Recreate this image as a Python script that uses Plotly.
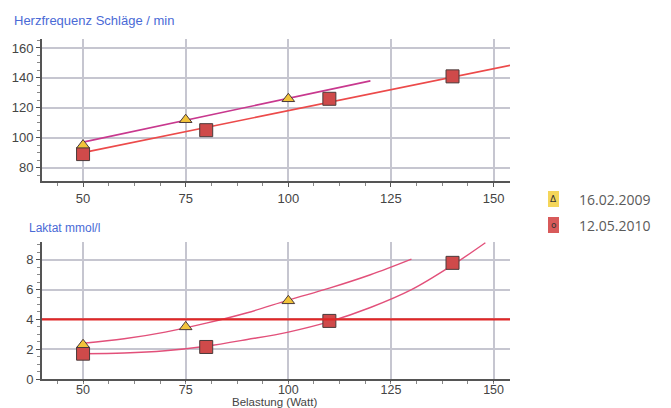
import plotly.graph_objects as go

# ---- data ----
hr_2009_x = [50, 75, 100]
hr_2009_y = [95, 112, 126]
hr_2010_x = [50, 80, 110, 140]
hr_2010_y = [89, 105, 126, 141]
hr_fit_2009_x = [50, 120]
hr_fit_2009_y = [97, 138]
hr_fit_2010_x = [50, 156]
hr_fit_2010_y = [90, 149.5]

lac_2009_x = [50, 75, 100]
lac_2009_y = [2.3, 3.5, 5.25]
lac_2010_x = [50, 80, 110, 140]
lac_2010_y = [1.7, 2.15, 3.9, 7.8]
lac_curve_2009_x = [50, 60, 70, 80, 90, 100, 110, 120, 130]
lac_curve_2009_y = [2.4, 2.7, 3.15, 3.75, 4.45, 5.3, 6.1, 7.0, 8.05]
lac_curve_2010_x = [50, 60, 70, 80, 90, 100, 110, 120, 130, 140, 148]
lac_curve_2010_y = [1.7, 1.75, 1.9, 2.2, 2.65, 3.15, 3.85, 4.8, 6.0, 7.65, 9.15]
lac_threshold = 4

x_ticks = [50, 75, 100, 125, 150]
hr_ticks = [80, 100, 120, 140, 160]
lac_ticks = [0, 2, 4, 6, 8]
legend_labels = ["16.02.2009", "12.05.2010"]
legend_glyphs = ["Δ", "o"]

# ---- styles ----
W, H = 671, 408
tri_fill = "#f2c43a"
sq_fill = "#cf4a4a"
mark_line = "#4a3a3a"
grid_c = "#c6c6d0"
axis_c = "#555555"
title_c = "#4a6ad6"

fig = go.Figure()

# top chart
fig.add_trace(go.Scatter(x=hr_fit_2009_x, y=hr_fit_2009_y, mode="lines",
                         line=dict(color="#c8388e", width=1.6), xaxis="x", yaxis="y"))
fig.add_trace(go.Scatter(x=hr_fit_2010_x, y=hr_fit_2010_y, mode="lines",
                         line=dict(color="#ec4a4a", width=1.6), xaxis="x", yaxis="y"))
fig.add_trace(go.Scatter(x=hr_2010_x, y=hr_2010_y, mode="markers",
                         marker=dict(symbol="square", size=13, color=sq_fill,
                                     line=dict(color=mark_line, width=1)), xaxis="x", yaxis="y"))
fig.add_trace(go.Scatter(x=hr_2009_x, y=hr_2009_y, mode="markers",
                         marker=dict(symbol="triangle-up", size=11, color=tri_fill,
                                     line=dict(color=mark_line, width=1)), xaxis="x", yaxis="y"))

# bottom chart
fig.add_trace(go.Scatter(x=lac_curve_2009_x, y=lac_curve_2009_y, mode="lines",
                         line=dict(color="#e2507a", width=1.4, shape="spline"), xaxis="x2", yaxis="y2"))
fig.add_trace(go.Scatter(x=lac_curve_2010_x, y=lac_curve_2010_y, mode="lines",
                         line=dict(color="#e2507a", width=1.4, shape="spline"), xaxis="x2", yaxis="y2"))
fig.add_trace(go.Scatter(x=lac_2010_x, y=lac_2010_y, mode="markers",
                         marker=dict(symbol="square", size=13, color=sq_fill,
                                     line=dict(color=mark_line, width=1)), xaxis="x2", yaxis="y2"))
fig.add_trace(go.Scatter(x=lac_2009_x, y=lac_2009_y, mode="markers",
                         marker=dict(symbol="triangle-up", size=11, color=tri_fill,
                                     line=dict(color=mark_line, width=1)), xaxis="x2", yaxis="y2"))

fig.add_shape(type="line", xref="x2 domain", yref="y2", x0=0, x1=1,
              y0=lac_threshold, y1=lac_threshold, line=dict(color="#e02626", width=2.2))

tick_font = dict(family="Liberation Sans, Arial", size=13, color="#444444")
common_x = dict(range=[40, 154], tickvals=x_ticks, showgrid=True, gridcolor=grid_c, gridwidth=1.5,
                showline=True, linecolor=axis_c, linewidth=2, ticks="outside",
                tickcolor=axis_c, zeroline=False, automargin=False,
                minor=dict(dtick=6.25, tick0=50, ticks="outside", ticklen=3, tickcolor="#888888", showgrid=False))
common_y = dict(showgrid=True, gridcolor=grid_c, gridwidth=1.5, showline=True, linecolor=axis_c,
                linewidth=2, ticks="outside", ticklen=4, tickcolor=axis_c, tickfont=tick_font,
                zeroline=False, automargin=False)

fig.update_layout(
    width=W, height=H, margin=dict(l=0, r=0, t=0, b=0),
    paper_bgcolor="white", plot_bgcolor="white", showlegend=False,
    xaxis=dict(domain=[42 / W, 510 / W], anchor="y", ticklen=4, tickfont=tick_font, **common_x),
    yaxis=dict(domain=[1 - 181 / H, 1 - 39 / H], anchor="x", range=[71, 166], tickvals=hr_ticks,
               minor=dict(dtick=5, ticks="outside", ticklen=3, tickcolor="#888888", showgrid=False),
               **common_y),
    xaxis2=dict(domain=[42 / W, 510 / W], anchor="y2", ticklen=1, ticklabelstandoff=-3,
                tickfont=dict(family="Liberation Sans, Arial", size=12.5, color="#444444"), **common_x),
    yaxis2=dict(domain=[1 - 379 / H, 1 - 242 / H], anchor="x2", range=[0, 9.2], tickvals=lac_ticks,
                minor=dict(dtick=0.5, ticks="outside", ticklen=3, tickcolor="#888888", showgrid=False),
                **common_y),
)

# titles
fig.add_annotation(text="Herzfrequenz Schläge / min", xref="paper", yref="paper",
                   x=12 / W, y=1 - 20 / H, xanchor="left", yanchor="middle", showarrow=False,
                   font=dict(family="Liberation Sans, Arial", size=13, color=title_c))
fig.add_annotation(text="Laktat mmol/l", xref="paper", yref="paper",
                   x=27 / W, y=1 - 228 / H, xanchor="left", yanchor="middle", showarrow=False,
                   font=dict(family="Liberation Sans, Arial", size=12, color=title_c))
fig.add_annotation(text="Belastung (Watt)", xref="paper", yref="paper",
                   x=274 / W, y=1 - 402 / H, xanchor="center", yanchor="middle", showarrow=False,
                   font=dict(family="Liberation Sans, Arial", size=11.5, color="#444444"))

# legend
legend_fills = ["#f5d65a", "#d85a5a"]
legend_ys = [199, 225]
for lab, gl, fc, ly in zip(legend_labels, legend_glyphs, legend_fills, legend_ys):
    fig.add_shape(type="rect", xref="paper", yref="paper", x0=548 / W, x1=559 / W,
                  y0=1 - (ly + 8) / H, y1=1 - (ly - 8) / H, fillcolor=fc, line=dict(width=0))
    fig.add_annotation(text=gl, xref="paper", yref="paper", x=553.5 / W, y=1 - ly / H,
                       xanchor="center", yanchor="middle", showarrow=False,
                       font=dict(family="DejaVu Sans", size=9, color="#333333"))
    fig.add_annotation(text=lab, xref="paper", yref="paper", x=577 / W, y=1 - ly / H,
                       xanchor="left", yanchor="middle", showarrow=False,
                       font=dict(family="Open Sans", size=14, color="#5a5a5a"))

fig.write_html("out.html", config={"displayModeBar": False},
               post_script="document.body.style.margin='0';document.body.style.overflow='hidden';")
